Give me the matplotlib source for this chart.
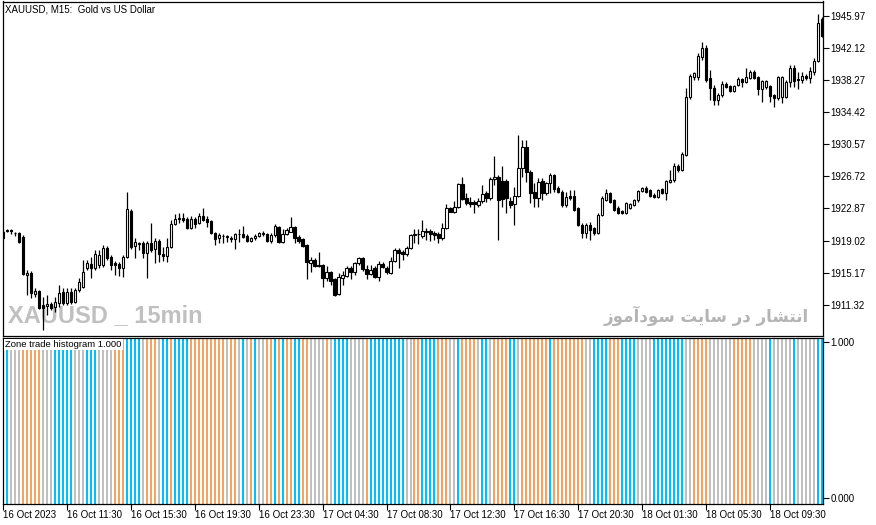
import numpy as np
import matplotlib
matplotlib.use("Agg")
import matplotlib.pyplot as plt
from matplotlib.patches import Rectangle

# ---------------- data ----------------
opens = [1920.05,1920.17,1920.23,1919.93,1919.89,1919.49,1914.89,1915.13,1912.61,1912.97,
 1911.29,1911.17,1911.41,1911.05,1911.53,1912.85,1911.53,1912.85,1911.65,1913.09,
 1913.45,1915.73,1916.21,1915.73,1916.09,1916.09,1918.13,1917.05,1916.33,1916.21,
 1915.73,1917.05,1922.57,1918.37,1918.61,1918.73,1917.53,1918.73,1918.01,1918.97,
 1917.41,1917.17,1918.25,1921.01,1921.73,1921.73,1921.61,1920.53,1921.61,1921.13,
 1921.97,1921.61,1921.37,1919.93,1919.33,1919.51,1919.57,1919.37,1919.21,1919.81,
 1919.81,1919.57,1918.97,1919.33,1919.57,1919.93,1919.81,1918.97,1919.69,1920.65,
 1918.85,1919.81,1920.05,1920.65,1919.45,1919.21,1918.49,1916.33,1916.69,1916.03,
 1916.09,1914.53,1915.25,1914.41,1912.61,1914.53,1914.77,1915.73,1915.25,1916.33,
 1916.93,1915.61,1915.01,1915.73,1914.65,1916.21,1915.73,1915.13,1916.57,1917.89,
 1917.65,1917.41,1918.13,1919.69,1919.81,1919.57,1920.11,1920.17,1919.93,1919.81,
 1919.33,1920.53,1922.93,1922.45,1923.05,1925.81,1924.13,1923.65,1923.65,1923.29,
 1923.77,1924.73,1924.13,1926.41,1926.65,1926.17,1926.17,1923.77,1923.41,1924.37,
 1927.73,1930.25,1927.25,1924.85,1924.13,1926.17,1924.73,1925.93,1926.89,1925.33,
 1924.85,1923.29,1924.37,1924.37,1922.93,1920.89,1919.93,1920.89,1920.53,1919.93,
 1922.09,1923.89,1924.73,1923.89,1922.93,1922.57,1922.33,1922.93,1923.29,1923.89,
 1924.97,1925.33,1925.09,1924.49,1924.25,1925.21,1924.73,1926.05,1926.29,1927.97,
 1927.49,1929.29,1936.25,1938.65,1938.65,1941.05,1942.13,1938.53,1937.33,1935.89,
 1936.49,1937.81,1937.57,1936.97,1937.69,1938.41,1938.05,1938.53,1939.25,1938.65,
 1937.21,1937.45,1937.57,1936.49,1936.13,1936.25,1936.25,1938.05,1939.73,1938.41,
 1938.29,1938.77,1938.53,1939.25,1940.57,1945.61]

highs = [1920.29,1920.41,1920.41,1920.09,1920.05,1919.69,1915.49,1915.37,1913.33,1913.09,
 1912.25,1912.49,1911.65,1912.25,1913.69,1913.33,1913.33,1913.33,1913.33,1914.53,
 1916.69,1916.69,1917.05,1917.89,1917.89,1918.49,1918.37,1917.29,1916.57,1916.45,
 1917.29,1924.85,1922.81,1919.33,1918.85,1918.97,1918.97,1921.13,1919.33,1919.21,
 1918.25,1919.33,1921.49,1922.21,1922.33,1922.33,1921.85,1921.97,1921.85,1922.33,
 1922.93,1921.97,1921.49,1920.05,1919.93,1919.81,1919.69,1919.57,1919.93,1920.41,
 1920.77,1919.81,1919.45,1919.81,1920.05,1920.17,1919.93,1919.93,1921.01,1920.77,
 1920.41,1920.53,1921.85,1920.77,1919.69,1919.33,1918.61,1917.05,1916.93,1917.65,
 1916.21,1915.97,1915.37,1914.53,1915.13,1915.37,1915.97,1915.97,1916.45,1917.05,
 1917.05,1916.09,1916.09,1915.97,1916.57,1916.45,1915.97,1917.05,1918.13,1918.13,
 1917.89,1918.37,1919.81,1920.41,1920.41,1921.49,1920.53,1920.41,1920.17,1920.05,
 1921.13,1923.41,1923.05,1923.77,1925.93,1926.65,1924.73,1924.25,1923.89,1924.13,
 1925.69,1924.97,1926.65,1929.17,1926.89,1927.97,1926.41,1924.25,1925.45,1931.69,
 1931.09,1931.09,1927.49,1925.93,1926.53,1926.53,1926.05,1927.13,1927.01,1925.57,
 1925.09,1924.85,1925.09,1925.09,1923.05,1921.13,1921.13,1921.25,1920.65,1922.33,
 1924.37,1925.21,1924.85,1924.01,1923.17,1922.69,1923.65,1923.53,1924.01,1925.09,
 1925.45,1925.57,1925.21,1924.73,1925.21,1925.33,1926.29,1927.49,1928.33,1928.21,
 1929.65,1937.33,1939.01,1939.25,1941.53,1942.85,1942.49,1939.49,1937.69,1936.73,
 1938.17,1938.05,1937.69,1937.69,1938.65,1938.53,1939.73,1939.49,1939.49,1938.77,
 1938.29,1938.29,1937.69,1936.61,1938.77,1938.77,1938.29,1940.09,1940.09,1939.25,
 1939.25,1939.01,1939.85,1940.93,1946.21,1945.85]

lows = [1919.21,1920.05,1919.81,1919.61,1918.77,1914.89,1912.49,1912.13,1912.25,1910.81,
 1908.29,1910.09,1910.69,1910.45,1911.05,1911.29,1911.29,1911.41,1911.53,1912.85,
 1913.33,1915.49,1914.53,1915.49,1915.73,1915.85,1916.69,1915.49,1914.89,1914.77,
 1914.65,1916.93,1918.01,1916.93,1917.89,1916.93,1914.53,1917.65,1916.33,1916.45,
 1916.57,1916.45,1918.13,1920.89,1921.13,1921.25,1920.41,1920.41,1920.53,1921.01,
 1921.37,1920.65,1919.81,1918.49,1918.73,1918.73,1918.85,1918.85,1918.01,1918.85,
 1919.33,1918.85,1918.85,1919.09,1919.45,1919.57,1918.85,1918.73,1919.45,1918.73,
 1918.73,1919.69,1920.05,1918.73,1918.73,1918.25,1914.41,1915.25,1915.85,1915.85,
 1913.45,1914.17,1913.69,1912.37,1912.49,1913.69,1914.65,1914.41,1914.89,1916.09,
 1915.37,1914.41,1914.89,1914.53,1914.17,1915.73,1915.01,1915.01,1916.45,1915.73,
 1916.69,1917.17,1918.01,1918.73,1918.61,1919.33,1919.09,1918.97,1919.09,1918.73,
 1919.09,1920.41,1922.39,1922.33,1922.93,1923.89,1923.29,1923.05,1922.33,1923.05,
 1923.53,1923.65,1923.89,1925.69,1919.09,1923.05,1922.33,1922.93,1920.89,1924.25,
 1926.65,1926.05,1923.53,1923.05,1923.05,1923.89,1924.49,1924.73,1924.85,1924.73,
 1923.05,1923.05,1923.89,1922.57,1920.77,1919.33,1919.33,1919.09,1919.69,1919.81,
 1921.97,1923.77,1923.53,1922.57,1922.21,1922.21,1922.21,1922.81,1923.17,1923.65,
 1924.85,1924.73,1924.25,1924.13,1924.13,1924.61,1923.89,1925.93,1926.05,1927.25,
 1927.37,1929.17,1936.01,1938.29,1938.29,1940.69,1938.05,1935.89,1935.29,1935.29,
 1936.25,1937.33,1936.85,1936.85,1937.57,1937.45,1937.93,1938.41,1938.41,1936.49,
 1935.65,1937.21,1935.65,1935.05,1935.89,1935.53,1936.13,1937.45,1937.45,1937.21,
 1937.93,1938.29,1937.93,1938.89,1940.45,1943.45]

closes = [1919.33,1920.29,1920.17,1919.87,1918.89,1914.97,1915.13,1912.73,1912.97,1910.93,
 1910.93,1911.41,1910.93,1911.65,1912.73,1911.53,1912.85,1911.65,1913.09,1914.05,
 1915.25,1916.33,1915.73,1917.41,1917.29,1918.13,1916.93,1916.09,1916.09,1915.73,
 1917.05,1922.81,1918.25,1918.85,1918.73,1917.53,1918.73,1917.89,1918.97,1917.41,
 1917.17,1918.25,1921.01,1921.61,1921.61,1921.49,1920.53,1921.61,1921.01,1921.97,
 1921.49,1921.25,1919.93,1919.21,1919.69,1919.57,1919.45,1919.21,1919.81,1919.75,
 1919.45,1918.97,1919.33,1919.57,1919.93,1919.81,1918.97,1919.69,1920.77,1918.85,
 1919.81,1920.29,1920.65,1919.33,1918.97,1918.37,1916.45,1916.69,1915.97,1915.97,
 1914.53,1915.25,1914.17,1912.49,1914.65,1914.89,1915.73,1915.25,1916.33,1916.93,
 1915.61,1915.01,1915.49,1914.65,1916.21,1915.85,1915.25,1916.57,1917.89,1917.53,
 1917.41,1918.13,1919.69,1919.81,1919.75,1920.17,1920.05,1919.81,1919.69,1919.33,
 1920.53,1922.93,1922.45,1923.05,1925.81,1924.01,1923.53,1923.41,1923.41,1923.77,
 1924.61,1924.13,1926.41,1926.65,1923.89,1924.01,1924.13,1923.29,1924.37,1927.73,
 1930.25,1927.25,1924.73,1924.13,1926.05,1924.73,1925.93,1926.89,1925.21,1924.85,
 1923.29,1924.25,1924.13,1922.69,1920.89,1919.93,1920.89,1920.29,1919.93,1922.09,
 1924.13,1924.73,1923.65,1922.69,1922.33,1922.33,1923.53,1923.41,1923.89,1924.97,
 1925.33,1924.85,1924.37,1924.25,1925.09,1924.73,1926.17,1926.29,1927.97,1927.49,
 1929.41,1936.25,1938.77,1939.13,1941.17,1942.13,1938.29,1937.33,1935.89,1936.49,
 1937.81,1937.45,1936.97,1937.57,1938.41,1938.05,1938.65,1939.25,1938.53,1937.21,
 1938.17,1938.17,1936.37,1936.13,1938.65,1938.65,1938.05,1939.73,1938.17,1938.29,
 1938.77,1938.53,1939.37,1940.57,1945.13,1943.57]

# zone state per bar: 1 = up (blue), -1 = down (orange), 0 = flat (gray)
zone = [1,1, 0,0,0, -1,-1,-1,-1,-1, 0,0,0, 1,1,1,1,1, 0,0,0, 1,1,1, 0,0,0,0,
        -1,-1,-1, 1,1,1,1, 0, -1,-1,-1, 0, 1,1, -1, 1,1,1,1,
        -1,-1,-1,-1,-1,-1,-1,-1,-1, 0, -1,-1, 0, 1, 0, -1, 1, 0,0, -1,-1,
        1, -1, 1, -1,-1, 1,1, -1,-1, 0,0,0,0, -1, 0, 1,1,1,1, 0,0,0,0, -1,
        1,1,1,1,1,1,1,1,1, 0,0, -1,-1,
        1,1,1,1, -1,-1,-1, 0,0, 1,
        -1,-1,-1,-1, 0, 1,1, 0, -1,-1,-1,-1, 1,1, 0, -1,-1,-1,-1,-1,-1,-1, 1,
        -1,-1,-1,-1,-1,-1,-1,-1, 0,0, 1,1,1,1, -1,-1,-1, 1,1,1,1, 0,0,0,0,
        1,1,1,1,1,1,1,1, 0,0, -1,-1,-1,-1, 0,0,0,0,0,0, -1,-1,-1,-1,-1,
        0,0,0,0, 1, 0,0,0,0,0, 1, 0,0,0,0,0, 1,1]
zone_value = [1.0] * len(zone)

price_ticks = [1945.97, 1942.12, 1938.27, 1934.42, 1930.57, 1926.72, 1922.87, 1919.02, 1915.17, 1911.32]
time_tick_bars = [0, 16, 32, 48, 64, 80, 96, 112, 128, 144, 160, 176, 192]
time_tick_labels = ["16 Oct 2023", "16 Oct 11:30", "16 Oct 15:30", "16 Oct 19:30", "16 Oct 23:30",
                    "17 Oct 04:30", "17 Oct 08:30", "17 Oct 12:30", "17 Oct 16:30", "17 Oct 20:30",
                    "18 Oct 01:30", "18 Oct 05:30", "18 Oct 09:30"]

# ---------------- figure ----------------
W, H = 876, 525
fig = plt.figure(figsize=(W / 100, H / 100), dpi=100, facecolor="white")
FONT = ["Liberation Sans", "DejaVu Sans"]
FS = 7

def px_axes(x0, y0, x1, y1):
    return fig.add_axes([x0 / W, 1 - y1 / H, (x1 - x0) / W, (y1 - y0) / H])

ax = px_axes(2.5, 1.5, 822.5, 336)
ax2 = px_axes(2.5, 337.5, 822.5, 504)

n = len(opens)
xlo, xhi = -0.15, n - 1 + 0.15
for a in (ax, ax2):
    a.set_xlim(xlo, xhi)
    a.set_facecolor("white")
    for s in a.spines.values():
        s.set_color("black")
        s.set_linewidth(0.9)

ax.set_ylim(1907.57, 1947.69)

# watermarks (behind candles)
ax.text(0.007, 0.027, "XAUUSD _ 15min", transform=ax.transAxes,
        fontsize=17, fontweight="bold", color="#c0c0c0",
        family=["Liberation Sans", "DejaVu Sans"],
        ha="left", va="bottom", zorder=0.5)
arabic = "\uFEAF\uFEEE\uFEE3\uFE81\uFEA9\uFEEE\uFEB3 \uFE96\uFBFE\uFE8E\uFEB3 \uFEAD\uFEA9 \uFEAD\uFE8E\uFEB8\uFE98\uFEE7\uFE8D"
ax.text(0.9835, 0.03, arabic, transform=ax.transAxes, fontsize=12, fontweight="bold",
        color="#b4b4b4", family=["DejaVu Sans"], ha="right", va="bottom", zorder=0.5)

# candles
bw = 0.6
for i in range(n):
    o, h, l, c = opens[i], highs[i], lows[i], closes[i]
    ax.vlines(i, l, h, color="black", linewidth=0.9, zorder=2)
    bottom = min(o, c)
    height = max(abs(c - o), 0.06)
    face = "white" if c >= o else "black"
    ax.add_patch(Rectangle((i - bw / 2, bottom), bw, height, facecolor=face,
                           edgecolor="black", linewidth=0.8, zorder=3))

ax.yaxis.tick_right()
ax.set_yticks(price_ticks)
ax.set_yticklabels([f"{p:.2f}" for p in price_ticks], fontsize=FS, family=FONT)
ax.tick_params(axis="y", direction="out", length=4, width=0.8, pad=1.5, colors="black")
ax.set_xticks([])

ax.text(0.003, 0.992, "XAUUSD, M15:  Gold vs US Dollar", transform=ax.transAxes,
        fontsize=FS, family=FONT, ha="left", va="top", zorder=5)

# zone histogram
colors = {1: "#00bfff", -1: "#f4a460", 0: "#c0c0c0"}
y_lo, y_hi = -0.0385, 1.0288
ax2.set_ylim(y_lo, y_hi)
idx = np.arange(n)
ax2.bar(idx, np.array(zone_value) - y_lo + (y_hi - 1.0), bottom=y_lo, width=0.5,
        color=[colors[z] for z in zone], linewidth=0, zorder=1)
ax2.yaxis.tick_right()
ax2.set_yticks([0.0, 1.0])
ax2.set_yticklabels(["0.000", "1.000"], fontsize=FS, family=FONT)
ax2.tick_params(axis="y", direction="out", length=4, width=0.8, pad=1.5)
ax2.set_xticks(time_tick_bars)
ax2.set_xticklabels(time_tick_labels, fontsize=FS, family=FONT)
ax2.tick_params(axis="x", direction="out", length=4, width=0.8, pad=0.5)
for lab in ax2.get_xticklabels():
    lab.set_horizontalalignment("left")

ax2.text(0.003, 0.985, "Zone trade histogram 1.000", transform=ax2.transAxes,
         fontsize=6.8, family=FONT, ha="left", va="top", zorder=5,
         bbox=dict(boxstyle="square,pad=0.15", facecolor="white", edgecolor="none"))

fig.savefig("out.png", dpi=100, facecolor="white")
